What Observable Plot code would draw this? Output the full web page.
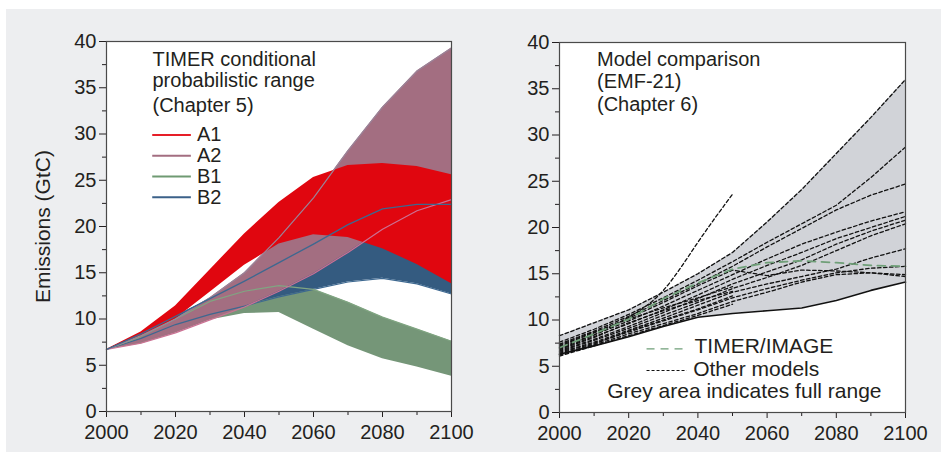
<!DOCTYPE html>
<html><head><meta charset="utf-8">
<script src="https://cdn.jsdelivr.net/npm/d3@7"></script>
<script src="https://cdn.jsdelivr.net/npm/@observablehq/plot@0.6"></script>
<style>
body{margin:0;background:#fff;font-family:"Liberation Sans",Arial,sans-serif;}
#wrap{position:relative;width:941px;height:452px;overflow:hidden;}
#bg{position:absolute;left:6px;top:9px;width:935px;height:443px;background:#edeef0;}
#left,#right{position:absolute;top:0;}
#left{left:0px}
#right{left:470px}
</style></head><body>
<div id="wrap"><div id="bg"></div><div id="left"></div><div id="right"></div></div>
<script>
// ---------- DATA ----------
const years = [2000, 2010, 2020, 2030, 2040, 2050, 2060, 2070, 2080, 2090, 2100];
const yMajor = [0, 5, 10, 15, 20, 25, 30, 35, 40];
const yMinor = [2.5, 7.5, 12.5, 17.5, 22.5, 27.5, 32.5, 37.5];
const xMajor = [2000, 2020, 2040, 2060, 2080, 2100];
const xMinor = [2010, 2030, 2050, 2070, 2090];

// Left panel: TIMER conditional probabilistic ranges (GtC)
const a1Low  = [6.7, 8.0, 10.0, 12.9, 15.8, 18.1, 19.1, 18.8, 17.6, 15.9, 13.8];
const a1High = [6.7, 8.6, 11.4, 15.3, 19.2, 22.6, 25.3, 26.6, 26.8, 26.5, 25.6];
const a2Low  = [6.7, 7.4, 8.5, 9.9, 11.3, 13.0, 14.9, 17.2, 19.7, 21.7, 22.9];
const a2High = [6.7, 8.2, 10.0, 12.3, 15.0, 18.8, 23.1, 28.2, 32.9, 36.8, 39.3];
const b1Low  = [6.7, 7.3, 8.5, 9.9, 10.6, 10.7, 8.9, 7.1, 5.7, 4.8, 3.8];
const b1High = [6.7, 8.1, 10.0, 11.9, 13.0, 13.6, 13.2, 11.8, 10.2, 8.9, 7.6];
const b2Low  = [6.7, 7.9, 9.4, 10.5, 11.4, 12.4, 13.2, 14.0, 14.4, 13.8, 12.7];
const b2High = [6.7, 8.4, 10.3, 12.2, 14.1, 16.1, 18.1, 20.2, 21.9, 22.4, 22.4];
const scenarios = ["A1", "A2", "B1", "B2"];

// Right panel: EMF-21 model comparison (GtC)
const rangeLow  = [6.0, 7.1, 8.1, 9.2, 10.2, 10.7, 11.0, 11.3, 12.1, 13.2, 14.1];
const rangeHigh = [8.3, 9.7, 11.1, 13.0, 15.0, 17.3, 20.6, 24.1, 28.0, 31.9, 36.0];
const timerImage = [7.0, 8.5, 10.1, 12.3, 14.0, 15.5, 16.2, 16.4, 16.2, 15.9, 15.8];
const lowestModel = [6.3, 7.2, 8.2, 9.3, 10.3, 10.7, 11.0, 11.3, 12.1, 13.2, 14.1];
const model1  = [8.3, 9.7, 11.1, 13.0, 15.0, 17.3, 20.6, 24.1, 28.0, 31.9, 36.0];
const model2  = [7.6, 9.0, 10.6, 12.4, 14.3, 16.3, 18.4, 20.4, 22.4, 25.4, 28.7];
const model3  = [7.4, 8.8, 10.4, 12.1, 13.9, 15.8, 17.9, 19.9, 21.9, 23.5, 24.7];
const model4  = [7.1, 8.4, 9.9, 11.5, 13.2, 14.9, 16.6, 18.2, 19.5, 20.7, 21.7];
const model5  = [6.9, 8.2, 9.6, 11.1, 12.7, 14.4, 15.9, 17.3, 18.8, 20.0, 21.2];
const model6  = [6.7, 7.9, 9.3, 10.8, 12.3, 13.9, 15.2, 16.5, 18.2, 19.6, 20.8];
const model7  = [6.6, 7.8, 9.1, 10.5, 11.9, 13.4, 14.6, 15.9, 17.5, 19.1, 20.4];
const model8  = [6.5, 7.6, 8.9, 10.2, 11.6, 13.0, 13.9, 14.7, 15.5, 16.7, 17.7];
const model9  = [6.4, 7.5, 8.7, 9.9, 11.1, 12.4, 13.4, 14.3, 15.1, 15.6, 15.8];
const model10 = [6.3, 7.3, 8.5, 9.6, 10.7, 12.0, 13.0, 14.1, 14.9, 15.1, 14.7];
const model11 = [7.2, 8.6, 10.2, 11.9, 13.7, 15.4, 14.8, 15.4, 15.3, 15.1, 14.9];
const model12 = [7.0, 8.4, 10.3, 13.2, 18.4, 23.6];   // to 2050 only
const model13 = [6.1, 7.2, 8.3, 9.4, 10.5, 11.7];     // to 2050 only
const model14 = [6.8, 8.1, 9.7, 11.0, 12.1, 13.1];    // to 2050 only
const model15 = [6.2, 7.4, 8.8, 10.0, 11.2, 12.6];    // to 2050 only
const model16 = [7.3, 8.7, 10.1, 11.3, 12.4, 13.6];   // to 2050 only

// ---------- HELPERS ----------
const FONT = '"Liberation Sans", Arial, sans-serif';
const INK = "#231f20";
const band = (lo, hi) => years.map((x, i) => ({x, lo: lo[i], hi: hi[i]}));
const series = (vals) => vals.map((v, i) => ({x: years[i], y: v}));
const otherModels = [model1, model2, model3, model4, model5, model6, model7, model8, model9, model10, model11, model13, model14, model15, model16]
  .flatMap((vals, k) => vals.map((v, i) => ({model: k, x: years[i], y: v})));

const note = (t, dx, dy, opts = {}) => Plot.text([t], {frameAnchor: "top-left", dx, dy, lineAnchor: "bottom", textAnchor: "start", fontSize: 20, fill: INK, ...opts});

function axes() {
  return [
    Plot.axisY({ticks: yMajor, tickSize: 7, tickPadding: 3, tickFormat: d => String(d), label: null}),
    Plot.axisY({ticks: yMinor, tickSize: 4, tickFormat: () => "", label: null}),
    Plot.axisX({ticks: xMajor, tickSize: 6, tickPadding: 7, tickFormat: d => String(d), label: null}),
    Plot.axisX({ticks: xMinor, tickSize: 4, tickFormat: () => "", label: null})
  ];
}
const common = {
  height: 452,
  x: {domain: [2000, 2100]},
  y: {domain: [0, 40]},
  style: {background: "transparent", overflow: "visible", fontSize: "20px", fontFamily: FONT, color: INK}
};

// ---------- LEFT PANEL ----------
const legendColors = ["#e61e28", "#a36e81", "#6f9a72", "#3b6189"];
const legendY = (d, i) => 29.9 - i * 2.25;
const left = Plot.plot({
  ...common,
  width: 470,
  marginLeft: 106, marginRight: 19, marginTop: 41, marginBottom: 41,
  marks: [
    Plot.frame({fill: "white", stroke: null}),
    Plot.areaY(band(b1Low, b1High), {x: "x", y1: "lo", y2: "hi", fill: "#759678"}),
    Plot.areaY(band(b2Low, b2High), {x: "x", y1: "lo", y2: "hi", fill: "#345b80"}),
    Plot.areaY(band(a2Low, a2High), {x: "x", y1: "lo", y2: "hi", fill: "#a36e81"}),
    Plot.areaY(band(a1Low, a1High), {x: "x", y1: "lo", y2: "hi", fill: "#e0060f"}),
    Plot.line(series(b2Low), {x: "x", y: "y", stroke: "#3d6890", strokeWidth: 1.2}),
    Plot.line(series(b1High), {x: "x", y: "y", stroke: "#80a582", strokeWidth: 1.2}),
    Plot.line(series(a2Low), {x: "x", y: "y", stroke: "#cc7194", strokeWidth: 1.2}),
    Plot.line(series(a2High), {x: "x", y: "y", stroke: "#9a8499", strokeWidth: 1.2}),
    Plot.line(series(b2High), {x: "x", y: "y", stroke: "#3d6890", strokeWidth: 1.3}),
    ...axes(),
    Plot.frame({stroke: "#4a4a4a", strokeWidth: 1.2}),
    Plot.text(["Emissions (GtC)"], {frameAnchor: "left", dx: -63, rotate: -90, textAnchor: "middle", fontSize: 21, fill: INK}),
    note("TIMER conditional", 46, 24.5),
    note("probabilistic range", 46, 45),
    note("(Chapter 5)", 46, 70),
    Plot.ruleY(scenarios, {y: legendY, x1: 2013.4, x2: 2024.6, stroke: (d, i) => legendColors[i], strokeWidth: 2}),
    Plot.text(scenarios, {x: 2026.2, y: legendY, textAnchor: "start", lineAnchor: "middle", fontSize: 20, fill: INK})
  ]
});
document.getElementById("left").append(left);

// ---------- RIGHT PANEL ----------
const right = Plot.plot({
  ...common,
  width: 471,
  marginLeft: 89, marginRight: 36, marginTop: 42, marginBottom: 40,
  marks: [
    Plot.frame({fill: "white", stroke: null}),
    Plot.areaY(band(rangeLow, rangeHigh), {x: "x", y1: "lo", y2: "hi", fill: "#d1d3d8"}),
    Plot.line(otherModels, {x: "x", y: "y", z: "model", stroke: "#111", strokeWidth: 1.3, strokeDasharray: "3.5,2.5"}),
    Plot.line(series(model12), {x: "x", y: "y", curve: "natural", stroke: "#111", strokeWidth: 1.3, strokeDasharray: "3.5,2.5"}),
    Plot.line(series(timerImage), {x: "x", y: "y", stroke: "#6f9f78", strokeWidth: 1.8, strokeDasharray: "8,6"}),
    Plot.line(series(lowestModel), {x: "x", y: "y", stroke: "#111", strokeWidth: 1.6}),
    ...axes(),
    Plot.frame({stroke: "#4a4a4a", strokeWidth: 1.2}),
    note("Model comparison", 37.5, 23.7),
    note("(EMF-21)", 37.5, 45.7),
    note("(Chapter 6)", 37.5, 68),
    Plot.ruleY(["TIMER/IMAGE"], {y: 6.88, x1: 2025.3, x2: 2036.9, stroke: "#6f9f78", strokeWidth: 1.4, strokeDasharray: "8,6"}),
    Plot.ruleY(["Other models"], {y: 4.54, x1: 2025.3, x2: 2036.9, stroke: "#111", strokeWidth: 1.1, strokeDasharray: "3,2"}),
    note("TIMER/IMAGE", 135, 310.7, {fontSize: 21}),
    note("Other models", 133.7, 333, {fontSize: 21}),
    note("Grey area indicates full range", 47.7, 355.3, {fontSize: 21})
  ]
});
document.getElementById("right").append(right);
</script></body></html>
